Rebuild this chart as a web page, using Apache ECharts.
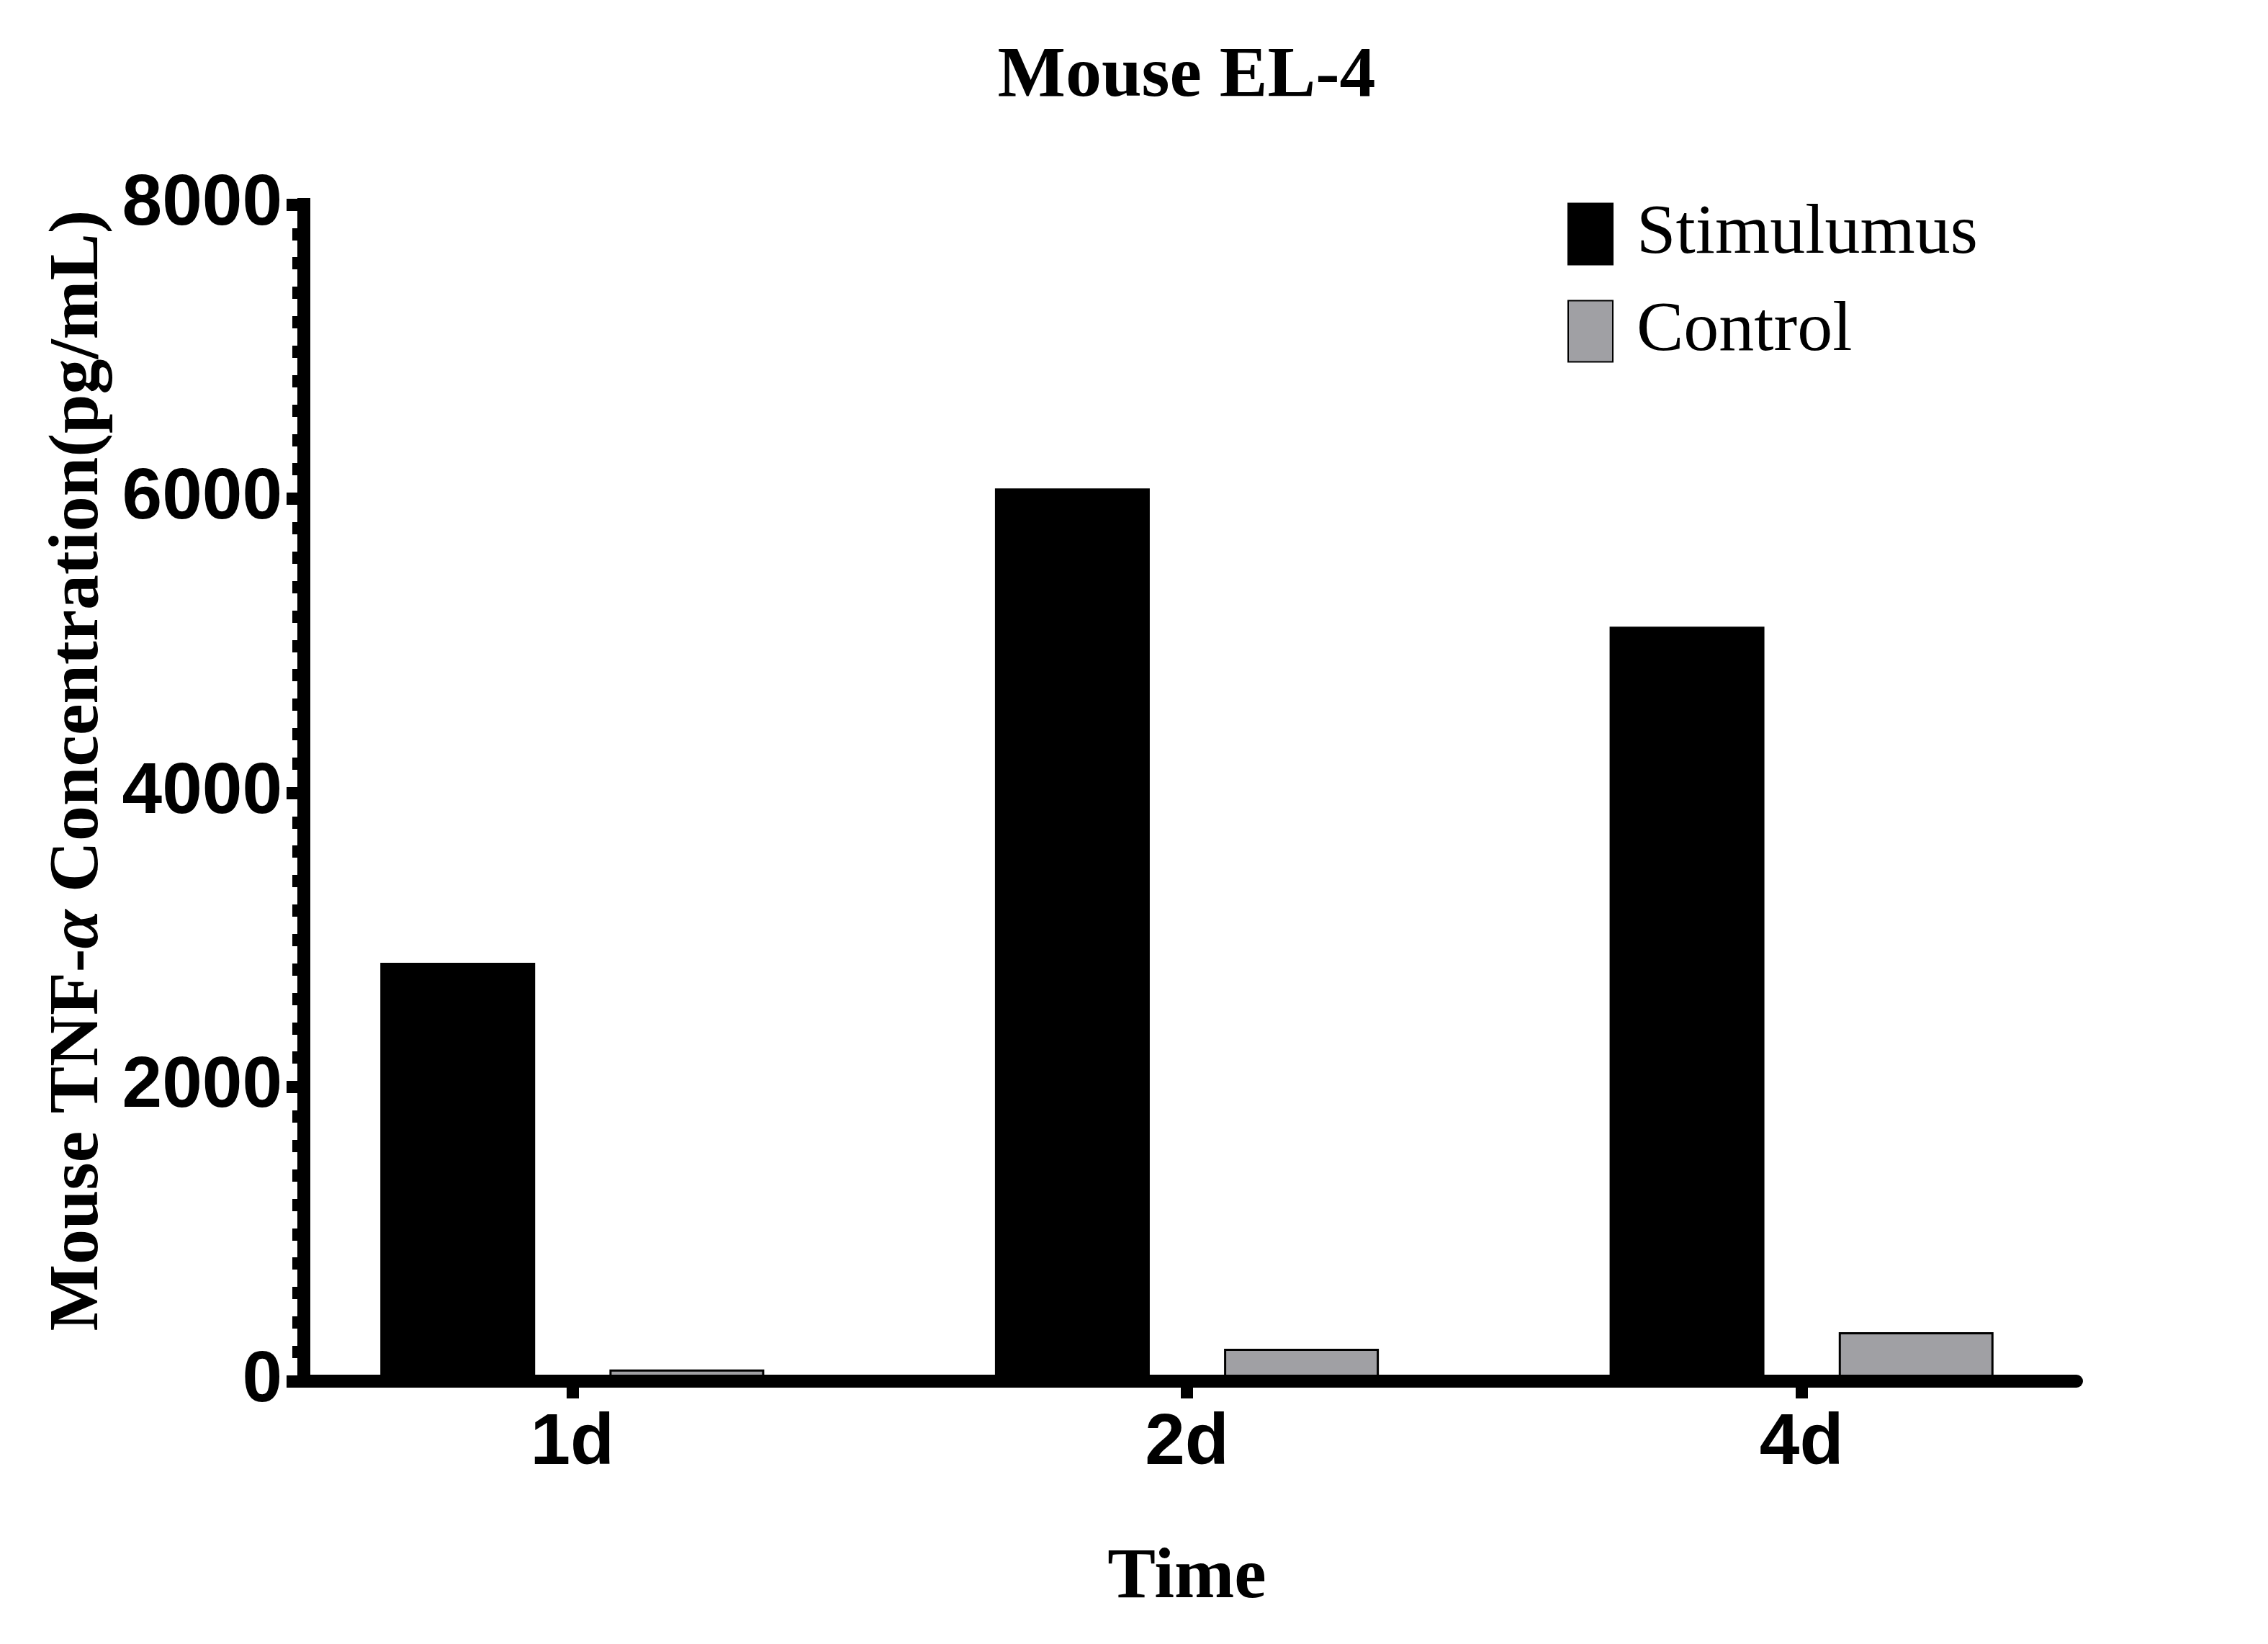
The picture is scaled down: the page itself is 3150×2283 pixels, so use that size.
<!DOCTYPE html>
<html>
<head>
<meta charset="utf-8">
<script src="https://cdn.jsdelivr.net/npm/echarts@6/dist/echarts.min.js"></script>
<style>
html,body{margin:0;padding:0;background:#fff;}
#chart{width:3150px;height:2283px;}
</style>
</head>
<body>
<div id="chart"></div>
<script>
const categories = ['1d', '2d', '4d'];
const stimulusValues = [2845, 6070, 5130];
const controlValues = [80, 220, 333];
const yTicks = [0, 2000, 4000, 6000, 8000];
const seriesNames = ['Stimulumus', 'Control'];

const serif = 'Liberation Serif, Times New Roman, serif';
const sans = 'Liberation Sans, Arial, sans-serif';

const chart = echarts.init(document.getElementById('chart'), null, {renderer: 'canvas'});
const option = {
  backgroundColor: '#fff',
  animation: false,
  title: {
    text: 'Mouse EL-4',
    left: 1648,
    top: 57,
    padding: 0,
    textAlign: 'center',
    textStyle: {fontFamily: serif, fontWeight: 'bold', fontSize: 100, color: '#000'}
  },
  legend: {
    orient: 'vertical',
    left: 2172,
    top: 271,
    itemWidth: 62,
    itemHeight: 85,
    itemGap: 37,
    icon: 'rect',
    data: seriesNames,
    textStyle: {fontFamily: serif, fontSize: 98, color: '#000', padding: [0, 0, 0, 28]}
  },
  grid: [
    {left: 368, right: 221, top: 284, bottom: 365, containLabel: false},
    {left: 422, right: 266, top: 284, bottom: 365, containLabel: false}
  ],
  xAxis: [
    {
      type: 'category', gridIndex: 0, data: categories,
      axisLine: {show: false},
      axisTick: {show: true, alignWithLabel: true, length: 24, lineStyle: {color: '#000', width: 17}},
      axisLabel: {margin: 37, fontFamily: sans, fontWeight: 'bold', fontSize: 100, color: '#000'},
      name: 'Time', nameLocation: 'middle', nameGap: 224,
      nameTextStyle: {fontFamily: serif, fontWeight: 'bold', fontSize: 100, color: '#000'}
    },
    {
      type: 'value', gridIndex: 1, min: 0, max: 1, z: 10,
      axisLine: {show: true, lineStyle: {color: '#000', width: 18}},
      axisTick: {show: false}, axisLabel: {show: false}, splitLine: {show: false}
    }
  ],
  yAxis: [
    {type: 'value', gridIndex: 0, min: 0, max: 8000, show: false},
    {
      type: 'value', gridIndex: 1, min: yTicks[0], max: yTicks[yTicks.length - 1], interval: 2000, z: 10,
      axisLine: {show: true, lineStyle: {color: '#000', width: 18, cap: 'square'}},
      axisTick: {show: true, length: 24, lineStyle: {color: '#000', width: 17}},
      minorTick: {show: true, splitNumber: 10, length: 16, lineStyle: {color: '#000', width: 17}},
      splitLine: {show: false},
      axisLabel: {
        margin: 30, fontFamily: sans, fontWeight: 'bold', fontSize: 100, color: '#000',
        formatter: function (v) { return String(v); }
      },
      name: 'Mouse TNF-{a|α} Concentration(pg/mL)',
      nameLocation: 'middle', nameGap: 240,
      nameTextStyle: {
        fontFamily: serif, fontWeight: 'bold', fontSize: 98, color: '#000',
        padding: [0, 0, 0, 62],
        rich: {a: {fontFamily: serif, fontWeight: 'bold', fontStyle: 'italic', fontSize: 98, color: '#000'}}
      }
    }
  ],
  series: [
    {
      name: seriesNames[0], type: 'bar', xAxisIndex: 0, yAxisIndex: 0,
      data: stimulusValues, barWidth: 215, barGap: '48%',
      itemStyle: {color: '#000', borderColor: '#000', borderWidth: 3}
    },
    {
      name: seriesNames[1], type: 'bar', xAxisIndex: 0, yAxisIndex: 0,
      data: controlValues, barWidth: 215, barGap: '48%',
      itemStyle: {color: '#a0a0a4', borderColor: '#000', borderWidth: 3}
    }
  ]
};
chart.setOption(option);
</script>
</body>
</html>
